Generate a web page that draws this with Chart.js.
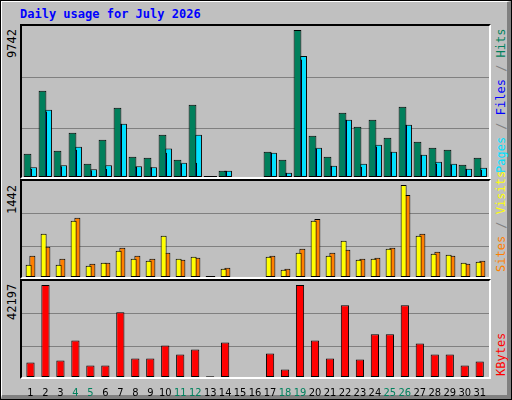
<!DOCTYPE html>
<html>
<head>
<meta charset="utf-8">
<script src="https://cdn.jsdelivr.net/npm/chart.js@4"></script>
<style>
  body { margin: 0; background: #fff; }
  #frame { position: absolute; left: 0; top: 0; width: 512px; height: 400px; background: #c0c0c0;
    box-sizing: border-box; border: 1px solid #000; }
  #shadow { position: absolute; left: 1px; top: 1px; width: 510px; height: 398px; box-sizing: border-box;
    border-top: 1px solid #fff; border-left: 1px solid #fff; border-right: 4px solid #808080; border-bottom: 4px solid #808080; }
  .panel { position: absolute; left: 20px; width: 471px; box-sizing: border-box;
    border-top: 2px solid #000; border-left: 2px solid #000; border-right: 2px solid #fff; border-bottom: 2px solid #fff; }
  .grid { position: absolute; left: 0; right: 0; height: 1px; background: #808080; }
  .txt { position: absolute; font-family: "DejaVu Sans Mono", monospace; font-size: 12px; white-space: nowrap; }
  .rot { transform-origin: 0 0; transform: rotate(-90deg); }
  canvas { position: absolute; }
</style>
</head>
<body>
<div id="frame"></div>
<div id="shadow"></div>
<div class="txt" style="left:20px;top:7px;color:#0000ff;font-weight:bold;">Daily usage for July 2026</div>

<div class="panel" style="top:24px;height:155px;"><div class="grid" style="top:51px"></div><div class="grid" style="top:102px"></div></div>
<div class="panel" style="top:179px;height:100px;"><div class="grid" style="top:32px"></div><div class="grid" style="top:65px"></div></div>
<div class="panel" style="top:279px;height:100px;"><div class="grid" style="top:32px"></div><div class="grid" style="top:65px"></div></div>

<div class="txt rot" style="left:5px;top:58px;">9742</div>
<div class="txt rot" style="left:5px;top:214px;">1442</div>
<div class="txt rot" style="left:5px;top:320px;">42197</div>

<div class="txt rot" style="left:494px;top:173px;"><span style="color:#00e0ff">Pages</span><span style="color:#808080"> / </span><span style="color:#0000ff">Files</span><span style="color:#808080"> / </span><span style="color:#00805c">Hits</span></div>
<div class="txt rot" style="left:494px;top:272px;"><span style="color:#ff8000">Sites</span><span style="color:#808080"> / </span><span style="color:#ffff00">Visits</span></div>
<div class="txt rot" style="left:494px;top:376px;"><span style="color:#ff0000">KBytes</span></div>

<canvas id="c1" width="465" height="151" style="left:23px;top:26px;"></canvas>
<canvas id="c2" width="465" height="96" style="left:23px;top:181px;"></canvas>
<canvas id="c3" width="465" height="115" style="left:23px;top:281px;"></canvas>

<script>
const days = Array.from({length: 31}, (_, i) => String(i + 1));
const weekendDays = ['4', '5', '11', '12', '18', '19', '25', '26'];

const hits   = [1543,5709,1741,2931,882,2468,4584,1344,1278,2799,1146,4783,60,419,0,0,1675,1146,9742,2733,1344,4254,3328,3791,2601,4650,2336,1940,1807,815,1278];
const files  = [529,4342,705,1807,441,529,3526,661,639,1609,882,948,60,419,0,0,1631,286,7780,1895,749,3791,661,2028,1675,3460,1477,882,815,551,485];
const pages  = [639,4452,771,2006,507,771,3526,705,639,1895,948,2799,60,419,0,0,1609,286,8023,1940,749,3791,882,2138,1675,3460,1477,1014,882,551,617];
const visits = [193,677,193,880,177,224,411,286,255,646,286,318,15,130,0,0,318,115,380,880,333,567,271,286,442,1442,646,364,349,224,239];
const sites  = [333,474,286,927,208,224,458,333,286,380,271,302,15,146,0,0,333,130,442,911,380,427,286,302,458,1286,677,396,333,208,255];
const kbytes = [6622,42197,7546,16786,5236,5236,29722,8470,8470,14476,10318,12628,300,15862,0,0,10780,3388,42197,16786,8470,32956,8008,19558,19558,32956,15400,10318,10318,5236,7084];

function barSet(data, color, bp, cp) {
  return { data: data, backgroundColor: color, borderColor: '#000', borderWidth: 1,
    borderSkipped: false, barPercentage: bp, categoryPercentage: cp };
}

function makeChart(id, datasets, ymax, showX) {
  new Chart(document.getElementById(id), {
    type: 'bar',
    data: { labels: days, datasets: datasets },
    options: {
      animation: false, responsive: false, maintainAspectRatio: false,
      layout: { padding: 0 },
      plugins: { legend: { display: false }, tooltip: { enabled: false } },
      scales: {
        x: {
          display: showX,
          grid: { display: false }, border: { display: false },
          ticks: {
            autoSkip: false, maxRotation: 0, padding: 2,
            font: { family: 'DejaVu Sans Condensed, Liberation Sans Narrow, sans-serif', size: 11 },
            color: ctx => weekendDays.includes(days[ctx.index]) ? '#00805c' : '#000'
          },
          afterFit: s => { if (showX) s.height = 19; }
        },
        y: { display: false, min: 0, max: ymax }
      }
    }
  });
}

makeChart('c1', [
  barSet(hits, '#00805c', 2.6, 0.6),
  barSet(files, '#0000ff', 1, 0.6),
  barSet(pages, '#00e0ff', 2.3, 0.6)
], 9742 * 151 / 147, false);

makeChart('c2', [
  barSet(visits, '#ffff00', 1.6, 0.5),
  barSet(sites, '#ff8000', 1.6, 0.5)
], 1442 * 96 / 92, false);

makeChart('c3', [
  barSet(kbytes, '#ff0000', 0.55, 1)
], 42197 * 96 / 92, true);
</script>
</body>
</html>
